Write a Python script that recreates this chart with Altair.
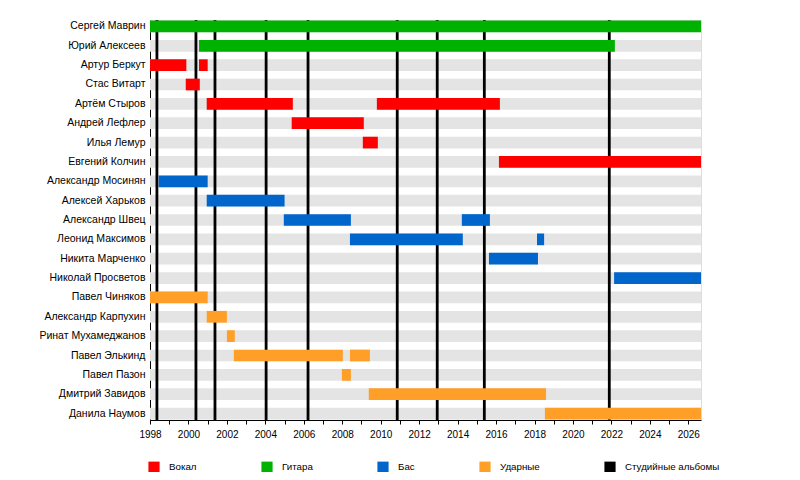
import altair as alt
import pandas as pd

FONT = "Liberation Sans"

# Row order (top to bottom)
names = [
    "Сергей Маврин", "Юрий Алексеев", "Артур Беркут", "Стас Витарт", "Артём Стыров",
    "Андрей Лефлер", "Илья Лемур", "Евгений Колчин", "Александр Мосинян", "Алексей Харьков",
    "Александр Швец", "Леонид Максимов", "Никита Марченко", "Николай Просветов",
    "Павел Чиняков", "Александр Карпухин", "Ринат Мухамеджанов", "Павел Элькинд",
    "Павел Пазон", "Дмитрий Завидов", "Данила Наумов",
]

roles = ["Вокал", "Гитара", "Бас", "Ударные", "Студийные альбомы"]
role_colors = ["#ff0000", "#00b200", "#0066cc", "#ff9f28", "#000000"]

START = 1998.0
END = 2026.66

# Membership periods (decimal years)
bar_names = [
    "Сергей Маврин", "Юрий Алексеев",
    "Артур Беркут", "Артур Беркут", "Стас Витарт", "Артём Стыров", "Артём Стыров",
    "Андрей Лефлер", "Илья Лемур", "Евгений Колчин",
    "Александр Мосинян", "Алексей Харьков", "Александр Швец", "Александр Швец",
    "Леонид Максимов", "Леонид Максимов", "Никита Марченко", "Николай Просветов",
    "Павел Чиняков", "Александр Карпухин", "Ринат Мухамеджанов", "Павел Элькинд",
    "Павел Элькинд", "Павел Пазон", "Дмитрий Завидов", "Данила Наумов",
]
bar_roles = [
    "Гитара", "Гитара",
    "Вокал", "Вокал", "Вокал", "Вокал", "Вокал",
    "Вокал", "Вокал", "Вокал",
    "Бас", "Бас", "Бас", "Бас",
    "Бас", "Бас", "Бас", "Бас",
    "Ударные", "Ударные", "Ударные", "Ударные",
    "Ударные", "Ударные", "Ударные", "Ударные",
]
bar_start = [
    1998.0, 2000.55,
    1998.0, 2000.55, 1999.86, 2000.95, 2009.80,
    2005.37, 2009.07, 2016.15,
    1998.45, 2000.95, 2004.96, 2014.22,
    2008.40, 2018.13, 2015.63, 2022.14,
    1998.0, 2000.95, 2002.0, 2002.36,
    2008.40, 2007.98, 2009.38, 2018.54,
]
bar_end = [
    END, 2022.18,
    1999.89, 2001.0, 2000.59, 2005.43, 2016.20,
    2009.12, 2009.85, END,
    2001.0, 2005.0, 2008.45, 2015.68,
    2014.27, 2018.50, 2018.18, END,
    2001.0, 2002.0, 2002.41, 2008.03,
    2009.44, 2008.45, 2018.60, END,
]

# Studio album release dates
albums = [1998.36, 2000.39, 2001.38, 2004.04, 2006.22, 2010.86, 2012.94, 2015.39, 2021.89]

years = list(range(1998, 2027))

bands_df = pd.DataFrame({"name": names, "start": [START] * len(names), "end": [END] * len(names)})
bars_df = pd.DataFrame({"name": bar_names, "role": bar_roles, "start": bar_start, "end": bar_end})
albums_df = pd.DataFrame({"year": albums})

xscale = alt.Scale(domain=[START, END], nice=False, zero=False)
yscale = alt.Scale(domain=names, paddingInner=0.396, paddingOuter=0.03)

xaxis = alt.Axis(
    values=years, labelExpr="datum.value % 2 == 0 ? datum.value : ''", title=None,
    grid=False, tickSize=4, tickColor="black", domainColor="black",
    labelColor="black", labelFont=FONT, labelFontSize=10, labelPadding=5,
    labelFlush=False, labelOverlap=False,
)
yaxis = alt.Axis(
    title=None, tickSize=0, labelPadding=5, labelColor="black", labelFont=FONT,
    labelFontSize=10.5, domainColor="black", grid=False,
)

bands = alt.Chart(bands_df).mark_bar(color="#e4e4e4").encode(
    x=alt.X("start:Q", scale=xscale, axis=xaxis),
    x2="end:Q",
    y=alt.Y("name:N", scale=yscale, sort=names, axis=yaxis),
)

rules = alt.Chart(albums_df).mark_rule(color="black", strokeWidth=2.8).encode(
    x=alt.X("year:Q", scale=xscale, axis=xaxis),
)

bars = alt.Chart(bars_df).mark_bar().encode(
    x=alt.X("start:Q", scale=xscale, axis=xaxis),
    x2="end:Q",
    y=alt.Y("name:N", scale=yscale, sort=names, axis=yaxis),
    color=alt.Color(
        "role:N",
        scale=alt.Scale(domain=roles, range=role_colors),
        legend=alt.Legend(
            orient="none", legendX=-2, legendY=441, direction="horizontal",
            title=None, symbolType="square", symbolSize=125, symbolStrokeWidth=0,
            labelFont=FONT, labelFontSize=9.75, labelColor="black",
            columnPadding=64, labelOffset=9, padding=0,
        ),
    ),
)

chart = alt.layer(bands, rules, bars).properties(
    width=551, height=400,
    padding={"left": 142, "top": 12, "right": 90, "bottom": 52},
    autosize=alt.AutoSizeParams(type="none"),
).configure_view(stroke=None).configure_axisX(labelOverlap=False).configure(background="white")

chart.save("out.html", embed_options={"renderer": "svg", "actions": False})
